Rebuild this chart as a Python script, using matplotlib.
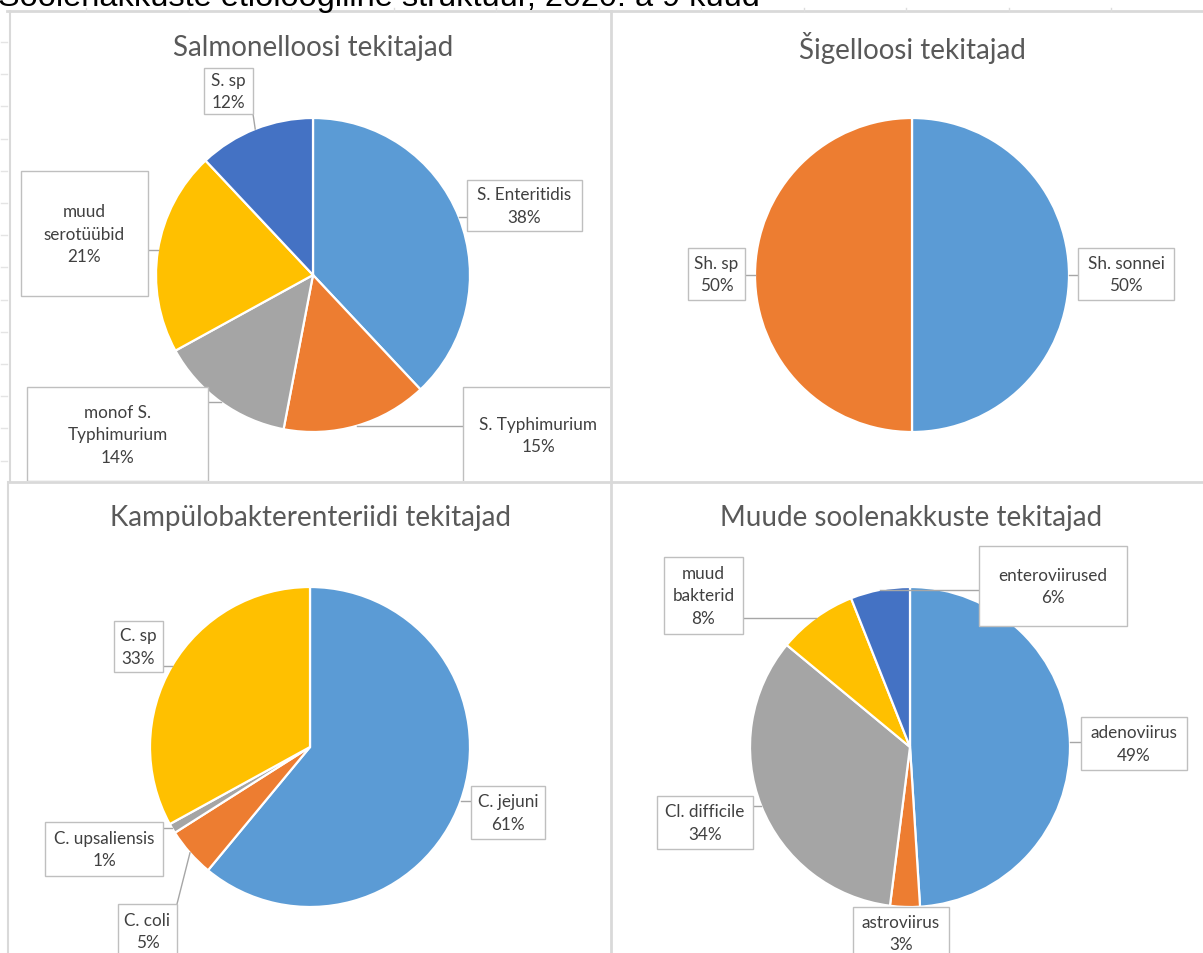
import numpy as np
import matplotlib
matplotlib.use("Agg")
import matplotlib.pyplot as plt
from matplotlib.patches import Rectangle

# data
salm_labels = ['S. Enteritidis', 'S. Typhimurium', 'monof S.\nTyphimurium', 'muud\nserotüübid', 'S. sp']
salm_values = [38, 15, 14, 21, 12]

shig_labels = ['Sh. sonnei', 'Sh. sp']
shig_values = [50, 50]

camp_labels = ['C. jejuni', 'C. coli', 'C. upsaliensis', 'C. sp']
camp_values = [61, 5, 1, 33]

other_labels = ['adenoviirus', 'astroviirus', 'Cl. difficile', 'muud\nbakterid', 'enteroviirused']
other_values = [49, 3, 34, 8, 6]

titles = ['Salmonelloosi tekitajad', 'Šigelloosi tekitajad',
          'Kampülobakterenteriidi tekitajad', 'Muude soolenakkuste tekitajad']

colors = ['#5B9BD5', '#ED7D31', '#A5A5A5', '#FFC000', '#4472C4']

W, H = 1203, 954
fig = plt.figure(figsize=(W / 100, H / 100), dpi=100)
plt.rcParams['font.family'] = ['Lato', 'DejaVu Sans']

bg = fig.add_axes([0, 0, 1, 1])
bg.set_xlim(0, W)
bg.set_ylim(H, 0)
bg.axis('off')

# sheet title, cut by the screenshot as in the original
fig.text(-0.002, 1 - 6 / H, 'Soolenakkuste etioloogiline struktuur, 2020. a 9 kuud',
         fontsize=23.4, family='Liberation Sans', color='black', va='baseline', ha='left')

# panel borders and faint sheet grid
grid = '#D9D9D9'
bg.plot([7, W], [12, 12], color=grid, lw=2)
bg.plot([10, 10], [12, 482], color=grid, lw=1.5)
bg.plot([611, 611], [12, H], color=grid, lw=2)
bg.plot([8, W], [483, 483], color=grid, lw=2)
bg.plot([8, 8], [483, H], color=grid, lw=1.5)
for yy in np.arange(43, 470, 32.2):
    bg.plot([1, 7], [yy, yy], color='#E4E4E4', lw=1)
for xx in np.arange(86, 1200, 102.5):
    bg.plot([xx, xx], [9, 12], color='#DDDDDD', lw=1)

# panel rects, pie centre/radius, title position, label boxes
panels = [
    dict(rect=(11, 13, 610, 482), centre=(313, 276), r=157, title=(313, 48),
         labels=salm_labels, values=salm_values,
         boxes=[(467, 181, 582, 232), (463, 388, 613, 484), (27, 388, 208, 482),
                (21, 172, 148, 297), (204, 69, 253, 115)]),
    dict(rect=(612, 13, W, 482), centre=(912, 276), r=157, title=(912, 48),
         labels=shig_labels, values=shig_values,
         boxes=[(1078, 249, 1174, 301), (688, 249, 745, 301)]),
    dict(rect=(9, 484, 610, H), centre=(310, 748), r=160, title=(310, 518),
         labels=camp_labels, values=camp_values,
         boxes=[(471, 787, 545, 840), (118, 905, 177, 959), (45, 823, 163, 877),
                (114, 622, 163, 673)]),
    dict(rect=(612, 484, W, H), centre=(910, 748), r=160, title=(911, 518),
         labels=other_labels, values=other_values,
         boxes=[(1081, 718, 1187, 771), (853, 908, 949, 960), (657, 797, 753, 850),
                (664, 558, 743, 635), (979, 547, 1127, 627)]),
]

for p, title in zip(panels, titles):
    cx, cy = p['centre']
    r = p['r']
    pax = fig.add_axes([(cx - r) / W, 1 - (cy + r) / H, 2 * r / W, 2 * r / H])
    wedges, _ = pax.pie(p['values'], colors=colors[:len(p['values'])], startangle=90,
                        counterclock=False, radius=1,
                        wedgeprops=dict(edgecolor='white', linewidth=1.6))
    pax.set_xlim(-1, 1)
    pax.set_ylim(-1, 1)
    pax.set_aspect('equal')

    x0, y0, x1, y1 = p['rect']
    lax = fig.add_axes([x0 / W, 1 - y1 / H, (x1 - x0) / W, (y1 - y0) / H])
    lax.set_xlim(x0, x1)
    lax.set_ylim(y1, y0)
    lax.axis('off')
    lax.patch.set_alpha(0)

    lax.text(p['title'][0], p['title'][1], title, fontsize=20, color='#595959',
             ha='center', va='center')

    for w, lab, val, box in zip(wedges, p['labels'], p['values'], p['boxes']):
        bx0, by0, bx1, by1 = box
        mid = np.deg2rad((w.theta1 + w.theta2) / 2)
        disp = pax.transData.transform((np.cos(mid), np.sin(mid)))
        ex, ey = lax.transData.inverted().transform(disp)
        nx = min(max(ex, bx0), bx1)
        ny = min(max(ey, by0), by1)
        lax.plot([nx, ex], [ny, ey], color='#A6A6A6', lw=1, zorder=2)
        lax.add_patch(Rectangle((bx0, by0), bx1 - bx0, by1 - by0, facecolor='white',
                                edgecolor='#BFBFBF', lw=1, zorder=3))
        lax.text((bx0 + bx1) / 2, (by0 + by1) / 2, f'{lab}\n{val}%', fontsize=12.3,
                 color='#404040', ha='center', va='center', linespacing=1.5,
                 zorder=4, clip_on=True)

fig.savefig('out.png', dpi=100, facecolor='white')
